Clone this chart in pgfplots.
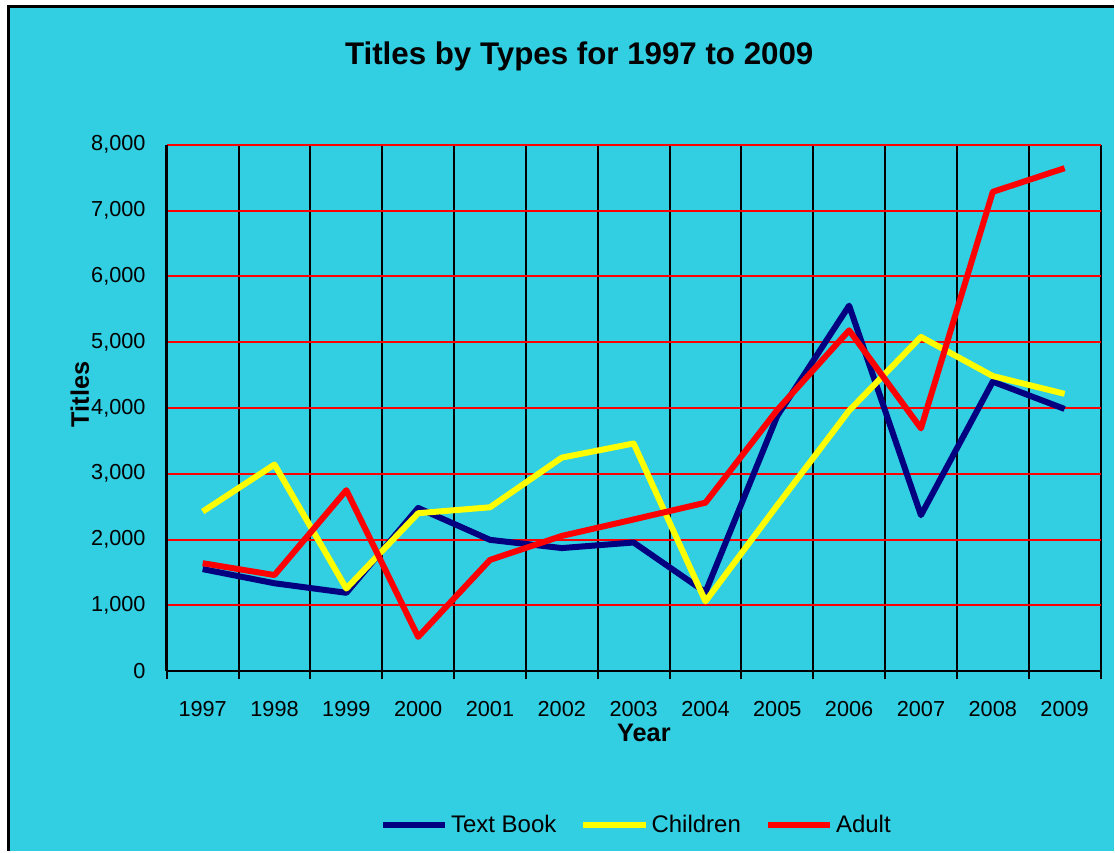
\documentclass[border=0pt]{standalone}
\usepackage{pgfplots}
\pgfplotsset{compat=1.18}
\usepackage{fontspec}
\setmainfont{Liberation Sans}
\definecolor{bgcyan}{RGB}{50,206,226}
\definecolor{navyline}{RGB}{0,0,128}
\definecolor{yel}{RGB}{255,255,0}
\definecolor{redl}{RGB}{255,0,0}
\begin{document}
\begin{tikzpicture}[x=1pt,y=1pt]
\fill[white] (-125.25,-135) rectangle (711,504);
\fill[bgcyan] (-118.9,-135) rectangle (711,499.1);
\draw[black,line width=2.25pt] (-118.9,-135) -- (-118.9,499.1) -- (711,499.1);
\begin{axis}[
  at={(0pt,0pt)}, anchor=south west,
  scale only axis,
  width=701.25pt, height=395.25pt,
  xmin=-0.5, xmax=12.5,
  ymin=0, ymax=8000,
  axis lines*=left,
  axis line style={black, line width=2pt},
  xtick={0,...,12},
  xticklabels={1997,1998,1999,2000,2001,2002,2003,2004,2005,2006,2007,2008,2009},
  minor xtick={-0.5,0.5,...,12.5},
  ytick={0,1000,...,8000},
  tick align=outside,
  major tick length=0pt,
  minor tick length=6pt,
  every minor tick/.style={black, line width=1.5pt},
  xminorgrids=true, xmajorgrids=false,
  ymajorgrids=true,
  minor x grid style={black, line width=1.5pt},
  major y grid style={redl, line width=1.5pt},
  /pgf/number format/assume math mode=true,
  /pgf/number format/1000 sep={,},
  scaled y ticks=false,
  tick label style={font=\fontsize{16.3}{19}\selectfont},
  xticklabel style={anchor=base, yshift=-34pt},
  yticklabel style={anchor=east, inner sep=0pt, xshift=-15.75pt},
  xlabel={Year}, ylabel={Titles},
  xlabel style={at={(axis description cs:0.511,-0.117)}, anchor=center, font=\bfseries\fontsize{19}{22}\selectfont},
  ylabel style={at={(axis description cs:-0.093,0.526)}, anchor=center, rotate=0, font=\bfseries\fontsize{19}{22}\selectfont},
  legend columns=3,
  legend style={at={(axis description cs:0.5032,-0.2922)}, anchor=center, draw=none, fill=none,
    font=\fontsize{18}{21}\selectfont,
    /tikz/every even column/.append style={column sep=16pt}},
  legend image code/.code={\draw[#1] plot coordinates {(0pt,0pt) (47pt,0pt)};},
  every axis plot/.append style={line width=4.5pt, line join=round, no markers},
]
\addplot[navyline] coordinates {(0,1550) (1,1335) (2,1190) (3,2480) (4,1995) (5,1870) (6,1955) (7,1200) (8,3880) (9,5555) (10,2370) (11,4400) (12,3985)};
\addlegendentry{Text Book}
\addplot[yel] coordinates {(0,2425) (1,3140) (2,1255) (3,2400) (4,2490) (5,3245) (6,3460) (7,1060) (8,2520) (9,3960) (10,5080) (11,4485) (12,4215)};
\addlegendentry{Children}
\addplot[redl] coordinates {(0,1640) (1,1460) (2,2750) (3,520) (4,1690) (5,2055) (6,2305) (7,2560) (8,3970) (9,5180) (10,3690) (11,7285) (12,7645)};
\addlegendentry{Adult}
\end{axis}
\node[font=\bfseries\fontsize{23.5}{27}\selectfont] at (309.75,462) {Titles by Types for 1997 to 2009};
\end{tikzpicture}
\end{document}
